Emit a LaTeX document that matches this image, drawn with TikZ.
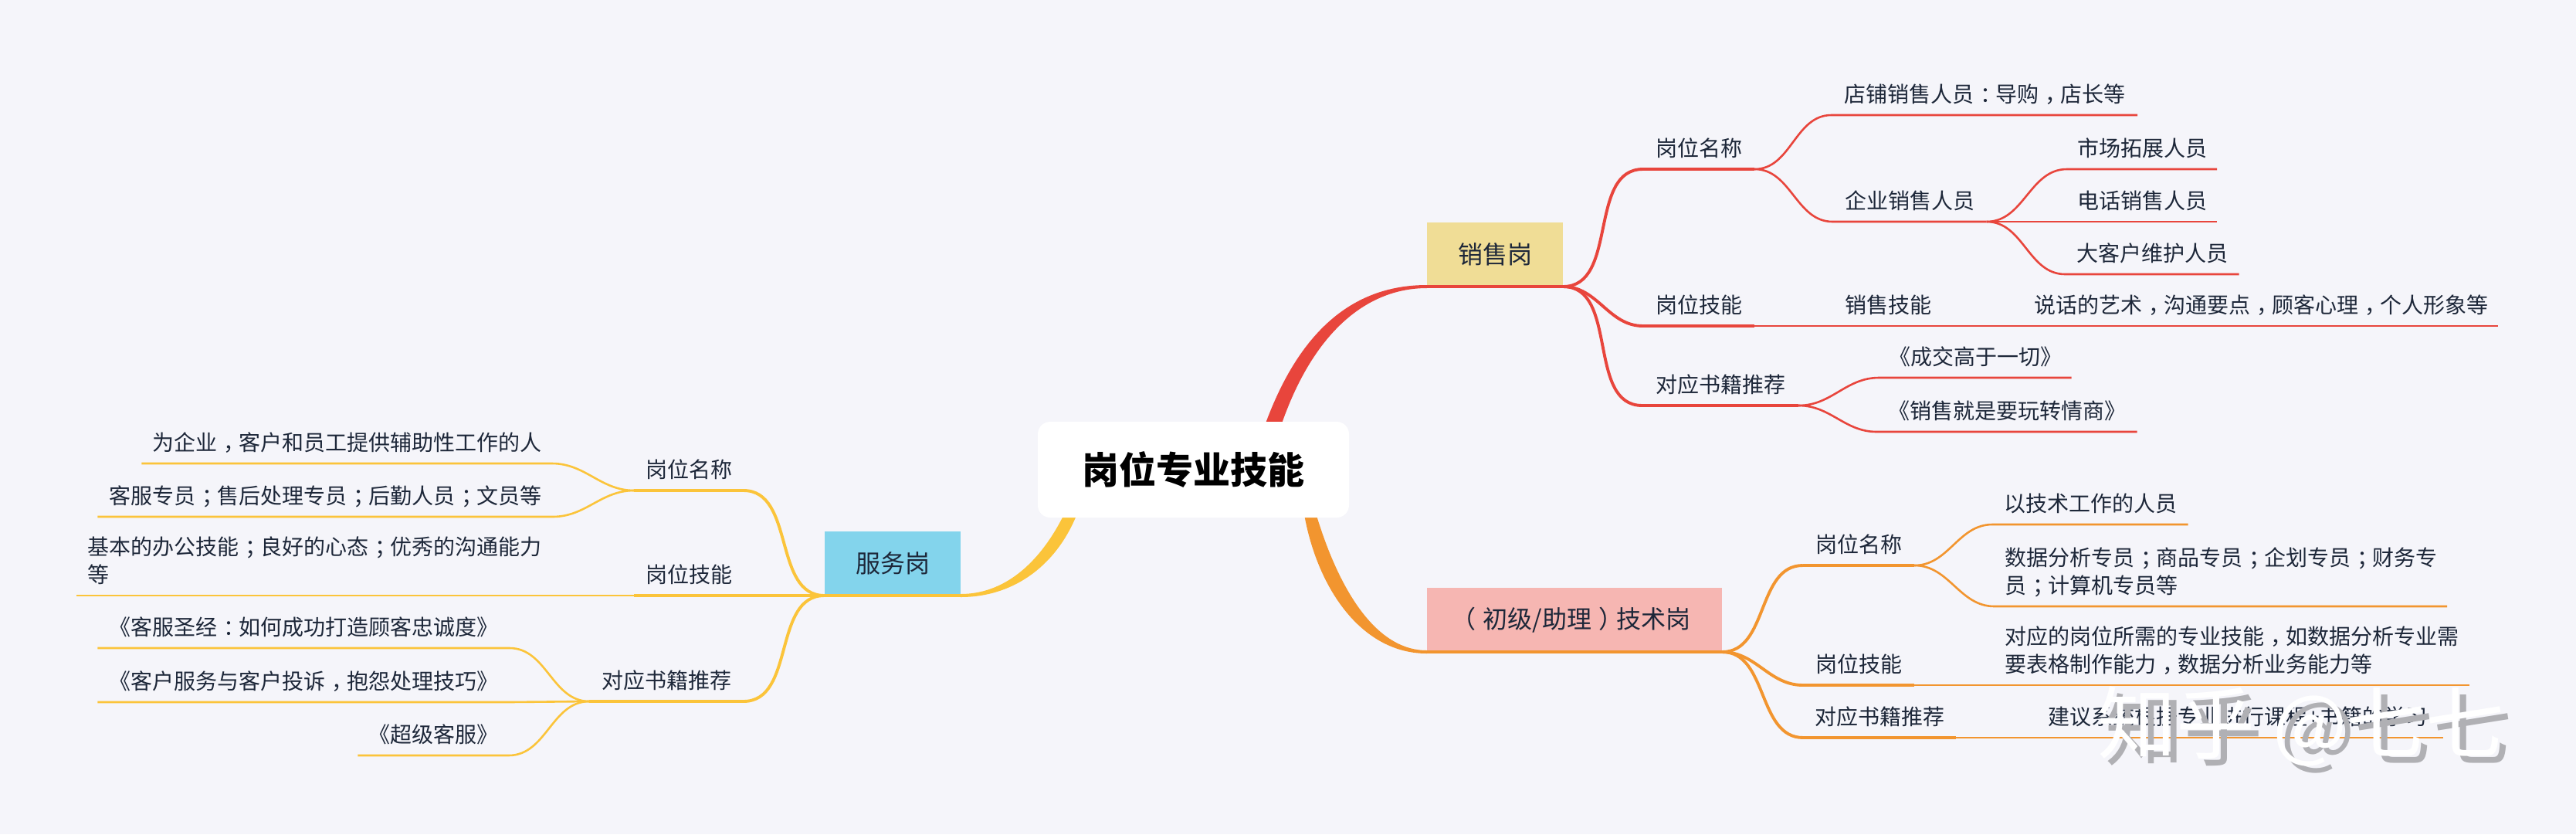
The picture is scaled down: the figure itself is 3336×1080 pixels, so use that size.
\documentclass[tikz,border=0pt]{standalone}
\usepackage{fontspec}
\setmainfont{Noto Sans CJK SC}
\usetikzlibrary{backgrounds}
\definecolor{pagebg}{HTML}{F5F5FA}
\definecolor{inkc}{HTML}{1D2739}
\definecolor{redc}{HTML}{E8453C}
\definecolor{orangec}{HTML}{F2952F}
\definecolor{yellowc}{HTML}{FBC43A}
\definecolor{salesbg}{HTML}{F0DD96}
\definecolor{techbg}{HTML}{F6B6B2}
\definecolor{servicebg}{HTML}{83D4EC}
\definecolor{shadowc}{HTML}{B0B0B4}
\newcommand{\pr}[1]{\kern.3em#1\kern-.3em}
\newcommand{\pl}[1]{\kern-.3em#1\kern.3em}
\tikzset{
	rootbox/.style={fill=white,rounded corners=16pt,minimum width=403pt,minimum height=124pt,inner sep=0pt,font=\fontsize{48}{56}\selectfont\bfseries,text=black},
	jobbox/.style={anchor=south,minimum height=83pt,inner sep=0pt,font=\fontsize{32}{40}\selectfont,text=inkc},
	topic/.style={anchor=south,align=left,inner xsep=0pt,inner ysep=12.5pt,text height=24pt,text depth=4pt,font=\fontsize{28}{36}\selectfont,text=inkc},
	trunk/.style={line width=4.8pt},
	limb/.style={line width=3.9pt},
	twig/.style={line width=2.6pt},
	wmark/.style={font=\fontsize{102}{110}\selectfont}
}
\begin{document}
\begin{tikzpicture}[x=1pt,y=-1pt]
	\node[rootbox] (root) at (1545.5,608) {岗位专业技能};
	\node[jobbox,fill=salesbg,minimum width=176pt] (sales) at (1936,371) {销售岗};
	\node[jobbox,fill=techbg,minimum width=382pt] (tech) at (2039,844) {\pl{（}初级/助理\pr{）}技术岗};
	\node[jobbox,fill=servicebg,minimum width=176pt] (service) at (1156,771) {服务岗};

	\node[topic,minimum width=144pt] (sTitle) at (2200,219) {岗位名称};
	\node[topic,minimum width=396pt] (sShop) at (2570,149) {店铺销售人员\pr{：}导购\pr{，}店长等};
	\node[topic,minimum width=199pt] (sCompany) at (2473,287) {企业销售人员};
	\node[topic,minimum width=194pt] (sMarket) at (2774,219) {市场拓展人员};
	\node[topic,minimum width=194pt] (sPhone) at (2774,287) {电话销售人员};
	\node[topic,minimum width=225pt] (sKey) at (2787,355) {大客户维护人员};
	\node[topic,minimum width=144pt] (sSkill) at (2200,422) {岗位技能};
	\node[topic,minimum width=147pt] (sSkillName) at (2445,422) {销售技能};
	\node[topic,minimum width=614pt] (sSkillText) at (2928,422) {说话的艺术\pr{，}沟通要点\pr{，}顾客心理\pr{，}个人形象等};
	\node[topic,minimum width=202pt] (sBook) at (2228,525) {对应书籍推荐};
	\node[topic,minimum width=249pt] (sBookA) at (2558,489) {《成交高于一切》};
	\node[topic,minimum width=337pt] (sBookB) at (2599,559) {《销售就是要玩转情商》};

	\node[topic,minimum width=144pt] (tTitle) at (2407,732) {岗位名称};
	\node[topic,minimum width=253pt] (tTitleA) at (2707,679) {以技术工作的人员};
	\node[topic,minimum width=586pt] (tTitleB) at (2876,785) {数据分析专员\pr{；}商品专员\pr{；}企划专员\pr{；}财务专\\员\pr{；}计算机专员等};
	\node[topic,minimum width=144pt] (tSkill) at (2407,887) {岗位技能};
	\node[topic,minimum width=616pt] (tSkillText) at (2890,887) {对应的岗位所需的专业技能\pr{，}如数据分析专业需\\要表格制作能力\pr{，}数据分析业务能力等};
	\node[topic,minimum width=197pt] (tBook) at (2434,955) {对应书籍推荐};
	\node[topic,minimum width=532pt] (tBookText) at (2898,955) {建议系统根据专业进行课程+书籍的学习};

	\node[topic,minimum width=141pt] (mTitle) at (892,635) {岗位名称};
	\node[topic,minimum width=531pt] (mTitleA) at (449,600) {为企业\pr{，}客户和员工提供辅助性工作的人};
	\node[topic,minimum width=589pt] (mTitleB) at (421,669) {客服专员\pr{；}售后处理专员\pr{；}后勤人员\pr{；}文员等};
	\node[topic,minimum width=141pt] (mSkill) at (892,771) {岗位技能};
	\node[topic,minimum width=615pt] (mSkillText) at (407,771) {基本的办公技能\pr{；}良好的心态\pr{；}优秀的沟通能力\\等};
	\node[topic,minimum width=199pt] (mBook) at (863,908) {对应书籍推荐};
	\node[topic,minimum width=533pt] (mBookA) at (393,839) {《客服圣经\pr{：}如何成功打造顾客忠诚度》};
	\node[topic,minimum width=533pt] (mBookB) at (393,909) {《客户服务与客户投诉\pr{，}抱怨处理技巧》};
	\node[topic,minimum width=195pt] (mBookC) at (561,978) {《超级客服》};

	\begin{scope}[on background layer]
		\fill[pagebg] (0,0) rectangle (3336,1080);
		\fill[redc] ([xshift=296pt]root.north west) .. controls (1685,425) and (1755,369) .. ([yshift=2pt]sales.south west) -- ([yshift=-2pt]sales.south west) .. controls (1770,373) and (1702,430) .. ([xshift=317pt]root.north west) -- cycle;
		\fill[orangec] ([xshift=346pt]root.south west) .. controls (1708,765) and (1765,846) .. ([yshift=-2pt]tech.south west) -- ([yshift=2pt]tech.south west) .. controls (1778,842) and (1732,755) .. ([xshift=362pt]root.south west) -- cycle;
		\fill[yellowc] ([xshift=32pt]root.south west) .. controls (1345,730) and (1300,769) .. ([yshift=2pt]service.south east) -- ([yshift=-2pt]service.south east) .. controls (1310,773) and (1365,735) .. ([xshift=49pt]root.south west) -- cycle;
	\end{scope}

	\foreach \n in {sales,sTitle,sSkill,sBook}
		\draw[redc,trunk] (\n.south west) -- (\n.south east);
	\foreach \n in {tech,tTitle,tSkill,tBook}
		\draw[orangec,trunk] (\n.south west) -- (\n.south east);
	\foreach \n in {service,mTitle,mSkill,mBook}
		\draw[yellowc,trunk] (\n.south west) -- (\n.south east);

	\draw[redc,limb] (sales.south east) to[out=0,in=180] (sTitle.south west);
	\draw[redc,limb] (sales.south east) to[out=0,in=180] (sSkill.south west);
	\draw[redc,limb] (sales.south east) to[out=0,in=180] (sBook.south west);
	\draw[redc,twig] (sTitle.south east) to[out=0,in=180] (sShop.south west) -- (sShop.south east);
	\draw[redc,twig] (sTitle.south east) to[out=0,in=180] (sCompany.south west) -- (sCompany.south east);
	\draw[redc,twig] (sCompany.south east) to[out=0,in=180] (sMarket.south west) -- (sMarket.south east);
	\draw[redc,twig] (sCompany.south east) -- (sPhone.south west) -- (sPhone.south east);
	\draw[redc,twig] (sCompany.south east) to[out=0,in=180] (sKey.south west) -- (sKey.south east);
	\draw[redc,twig] (sSkill.south east) -- (sSkillName.south west) -- (sSkillName.south east) -- (sSkillText.south west) -- (sSkillText.south east);
	\draw[redc,twig] (sBook.south east) to[out=0,in=180] (sBookA.south west) -- (sBookA.south east);
	\draw[redc,twig] (sBook.south east) to[out=0,in=180] (sBookB.south west) -- (sBookB.south east);

	\draw[orangec,limb] (tech.south east) to[out=0,in=180] (tTitle.south west);
	\draw[orangec,limb] (tech.south east) to[out=0,in=180] (tSkill.south west);
	\draw[orangec,limb] (tech.south east) to[out=0,in=180] (tBook.south west);
	\draw[orangec,twig] (tTitle.south east) to[out=0,in=180] (tTitleA.south west) -- (tTitleA.south east);
	\draw[orangec,twig] (tTitle.south east) to[out=0,in=180] (tTitleB.south west) -- (tTitleB.south east);
	\draw[orangec,twig] (tSkill.south east) -- (tSkillText.south west) -- (tSkillText.south east);
	\draw[orangec,twig] (tBook.south east) -- (tBookText.south west) -- (tBookText.south east);

	\draw[yellowc,limb] (service.south west) to[out=180,in=0] (mTitle.south east);
	\draw[yellowc,trunk] (service.south west) -- (mSkill.south east);
	\draw[yellowc,limb] (service.south west) to[out=180,in=0] (mBook.south east);
	\draw[yellowc,twig] (mTitle.south west) to[out=180,in=0] (mTitleA.south east) -- (mTitleA.south west);
	\draw[yellowc,twig] (mTitle.south west) to[out=180,in=0] (mTitleB.south east) -- (mTitleB.south west);
	\draw[yellowc,twig] (mSkill.south west) -- (mSkillText.south east) -- (mSkillText.south west);
	\draw[yellowc,twig] (mBook.south west) to[out=180,in=0] (mBookA.south east) -- (mBookA.south west);
	\draw[yellowc,twig] (mBook.south west) -- (mBookB.south east) -- (mBookB.south west);
	\draw[yellowc,twig] (mBook.south west) to[out=180,in=0] (mBookC.south east) -- (mBookC.south west);

	\node[wmark,text=shadowc] (markShadow) at (2990,949) {知乎 @七七};
	\node[wmark,text=white] (markText) at (2980,940) {知乎 @七七};
\end{tikzpicture}
\end{document}
